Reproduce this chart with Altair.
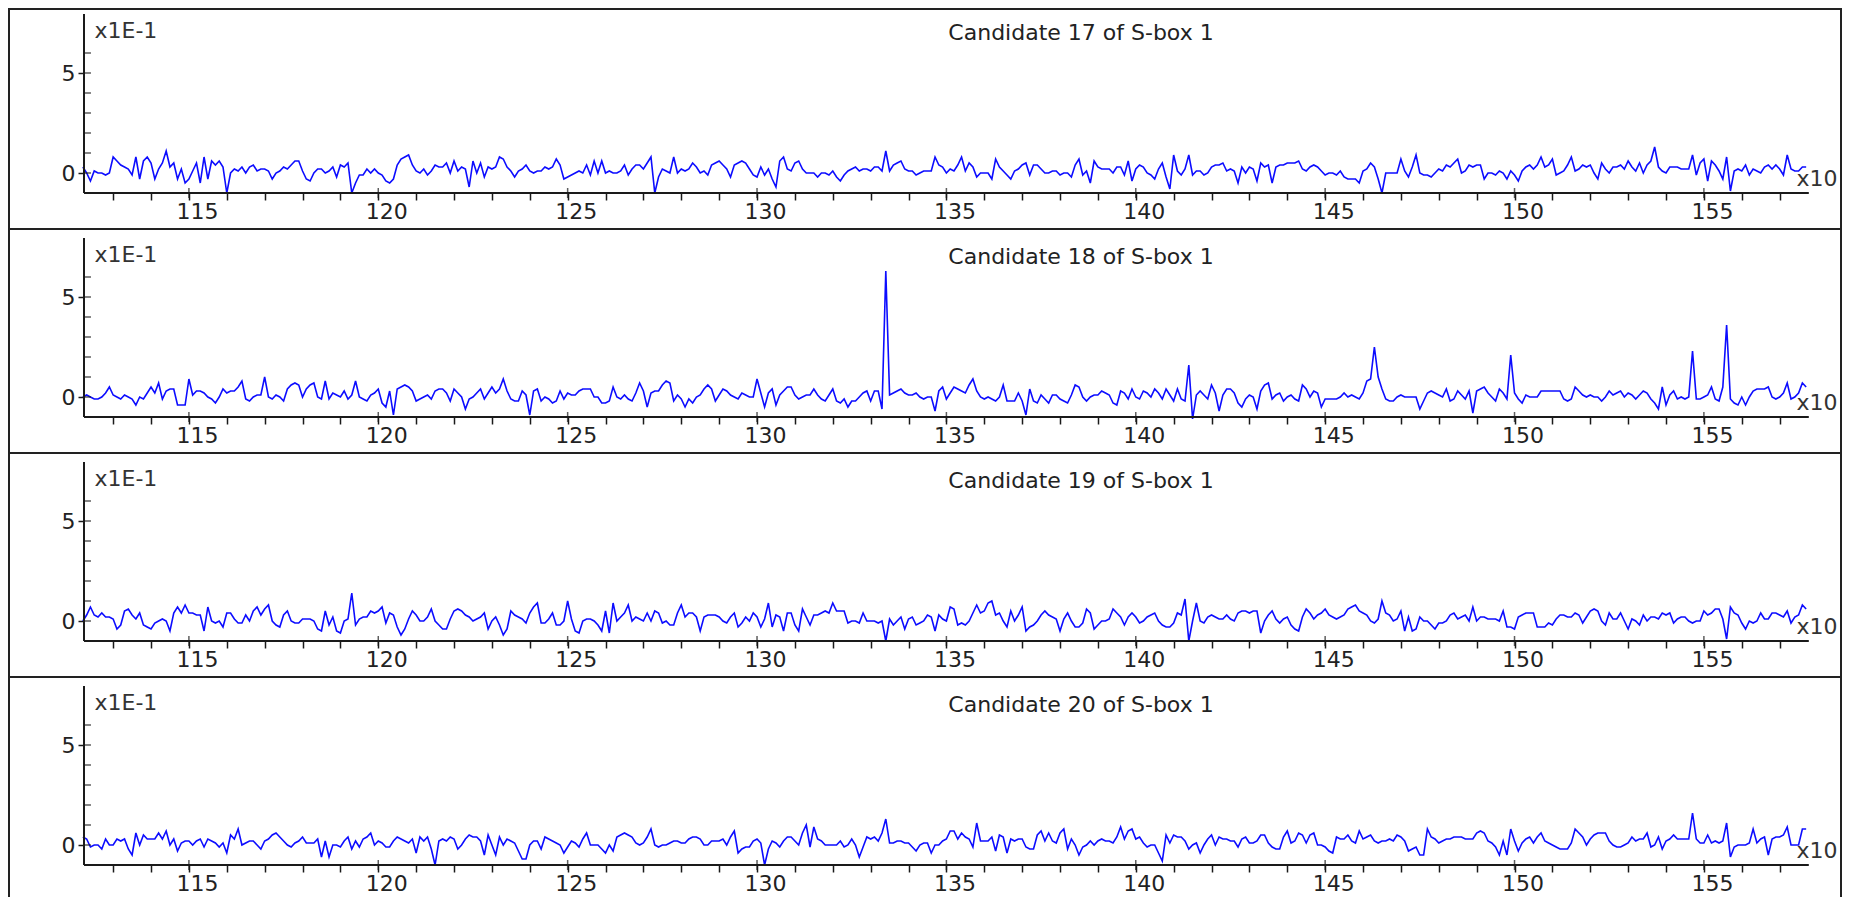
import altair as alt
import pandas as pd

# sample index (axis shows value / 10, hence the "x10" note)
SAMPLES = list(range(1122, 1578))

# values in hundredths (axis shows tenths, hence the "x1E-1" note)
CAND17 = [
    3, 0, -4, 1, 0, 0, -1, 0, 8, 6,
    4, 3, 2, -1, 8, -3, 6, 8, 5, -3,
    2, 5, 11, 3, 5, -3, 2, -5, -3, 1,
    5, -5, 8, -3, 6, 4, 6, 3, -10, 0,
    2, 1, 3, 0, 3, 4, 1, 2, 2, 1,
    -3, 0, 1, 3, 2, 4, 6, 6, 1, -3,
    -4, 0, 2, 2, 0, 1, 3, -2, 4, 3,
    5, -10, -5, -1, -1, 2, 0, 2, 0, -1,
    -4, -5, -3, 4, 7, 8, 9, 4, 1, 0,
    2, -1, 1, 4, 3, 3, 5, 0, 6, 1,
    3, 2, -7, 6, 0, 5, -2, 3, 2, 3,
    8, 7, 3, 1, -2, 1, 2, 4, 1, 0,
    1, 1, 3, 2, 3, 7, 4, -3, -2, -1,
    0, 1, 0, 4, -1, 6, 0, 6, 0, 1,
    0, 0, 1, 4, -1, 2, 4, 4, 2, 5,
    8, -10, -2, 2, 1, 0, 8, 0, 2, 1,
    2, 5, 3, 0, 1, -1, 4, 5, 6, 4,
    2, -2, 4, 5, 6, 5, 2, -1, -2, 3,
    -1, 2, -3, -7, 6, 8, 2, 1, 5, 6,
    2, 0, 0, 0, -2, 0, 0, -1, 1, -2,
    -4, -1, 1, 2, 3, 1, 2, 2, 1, 3,
    3, 1, 11, 1, 4, 5, 6, 2, 1, 1,
    -1, 0, 1, 1, 1, 8, 4, 3, 0, 2,
    1, 4, 8, 1, 5, 3, -2, 0, 0, 0,
    -3, 7, 3, 1, -1, -3, 1, 2, 4, 5,
    -1, 4, 4, 2, 0, 0, 1, 1, -1, 0,
    0, -2, 4, 7, -1, 1, -5, 6, 3, 2,
    2, 2, 0, 3, 3, -1, 6, -4, 2, 4,
    3, 0, -1, -3, 2, 5, -2, -8, 9, 1,
    -1, 2, 9, -1, 1, 1, -1, 0, 3, 4,
    4, 5, 1, 2, 1, -5, 3, 0, 3, 2,
    -4, 5, 3, 4, -5, 3, 4, 4, 5, 5,
    5, 6, 2, 1, 3, 4, 3, 1, -1, 0,
    0, -1, 1, -2, -3, -3, -3, -5, 1, 2,
    5, 3, -3, -10, 0, 0, 0, 0, 7, 1,
    -2, 3, 9, 0, -1, -1, -2, 0, 2, 1,
    4, 3, 5, 7, 0, 1, 4, 3, 4, 4,
    -3, 0, 0, -1, 1, 0, -3, 1, -1, -4,
    1, 3, 4, 2, 4, 8, 3, 4, 7, -1,
    0, 1, 4, 8, 1, 2, 4, 3, 4, 0,
    -3, 5, 2, 0, 3, 3, 4, 2, 6, 3,
    1, 5, 0, 4, 6, 13, 3, 1, 0, 3,
    3, 3, 2, 2, 2, 9, -1, 5, 7, -4,
    6, 4, 1, -3, 8, -9, 1, 2, 1, 4,
    -1, 2, 1, 0, 3, 4, 2, 4, 2, -1,
    9, 2, 1, 1, 3, 3,
]

CAND18 = [
    0, 1, 0, -1, -1, 0, 2, 5, 1, 0,
    -1, 1, 0, -1, -4, 0, -1, 2, 5, 2,
    7, -1, 3, 4, 4, -4, -4, -4, 9, 1,
    3, 3, 2, 0, -1, -3, 0, 4, 2, 3,
    3, 5, 8, -1, -2, 0, 1, 1, 10, 0,
    -1, 1, 0, -2, 4, 6, 7, 6, 0, 4,
    6, 7, 0, -1, 8, -1, 2, 1, 0, 3,
    -1, 1, 8, 0, -1, -2, 1, 2, 4, -3,
    -5, 3, -9, 4, 5, 6, 5, 3, -2, -1,
    0, 1, -1, 3, 4, 4, 2, -2, 4, 2,
    0, -6, -1, 0, 2, 4, -1, 2, 5, 2,
    4, 9, 3, -1, -2, -2, 3, 1, -9, 3,
    4, -2, 0, -1, -3, -2, 3, -1, 2, 1,
    1, 3, 4, 4, 4, 0, 0, -3, -3, -2,
    5, 0, -1, 1, -1, -2, 2, 7, 3, -5,
    2, 3, 3, 6, 8, 7, -2, 1, -1, -5,
    -1, -3, 0, 1, 4, 6, 4, -2, 1, 4,
    3, 1, 0, -1, 2, 1, 0, 0, 9, 2,
    -5, 2, 4, -4, 1, 3, 5, 5, 1, -1,
    0, 1, 1, 4, 1, -1, -2, 1, 4, -2,
    -3, -1, -5, -2, -2, 0, 2, 3, -2, 3,
    3, -6, 63, 1, 2, 3, 4, 2, 1, 1,
    2, 0, -1, 0, 0, -7, 3, 5, -1, 2,
    5, 4, 3, 2, 6, 9, 3, 0, -1, 0,
    -1, -2, 0, 6, -2, -2, -2, 2, -2, -9,
    4, -2, -3, 1, -1, -3, 1, 1, -1, -2,
    -3, 1, 6, 5, 0, -2, 0, 1, 1, 3,
    2, 1, -3, -4, 3, 2, -1, 4, 0, -1,
    3, 2, 0, 4, 2, -1, 4, 1, -2, 4,
    -1, -2, 16, -11, 1, 3, 1, -1, 6, 2,
    -7, 1, 4, 4, 2, -3, -5, -1, 1, 0,
    -6, 3, 6, 7, -1, 1, 2, -2, 0, 1,
    -1, -2, 6, 4, 0, 3, 2, -5, -1, -1,
    -1, -1, 0, 2, 0, 1, 0, -1, 2, 8,
    9, 25, 10, 4, -1, -2, -2, 0, 1, 0,
    0, 0, 0, -6, -2, 2, 3, 2, 1, 0,
    4, -2, -1, 3, 1, -1, 3, -8, 3, 4,
    5, 2, 0, -2, 4, 2, -1, 21, 2, -1,
    -3, 1, 0, 0, 0, 3, 3, 3, 3, 3,
    3, -1, -2, -1, 5, 3, 1, 0, 1, 0,
    0, -2, 0, 3, 1, 2, 3, 0, 2, 1,
    -1, 1, 3, 2, -1, -3, -6, 5, -4, 1,
    3, -1, 0, -1, 0, 23, -1, -1, 0, 1,
    5, -1, -2, 5, 36, -1, -3, -4, 0, -4,
    0, 3, 4, 4, 4, 5, 0, -1, 0, 2,
    7, -1, 0, 2, 7, 5,
]

CAND19 = [
    0, 3, 7, 3, 2, 4, 2, 2, 1, -4,
    -2, 5, 6, 3, 1, 4, -2, -3, -4, -1,
    0, 1, 0, -5, 4, 7, 4, 8, 4, 4,
    3, 3, -5, 7, 0, -1, 0, -3, 4, 4,
    1, -1, -1, 3, 0, 5, 7, 3, 6, 8,
    0, -2, -3, 3, 5, 0, -1, -1, 1, 1,
    1, 0, -4, -5, 5, -2, 2, -5, -6, 0,
    1, 14, -2, 1, 2, 2, 5, 4, 5, 7,
    -1, 4, 3, -3, -7, -4, 1, 5, 3, 0,
    0, 2, 6, 0, -2, -4, -4, 1, 5, 6,
    5, 3, 2, 0, 1, 2, 4, -4, 0, 2,
    -2, -7, -4, 5, 3, 2, 1, -1, 4, 7,
    9, -1, -1, 1, 4, -2, -2, 0, 10, 1,
    -5, -6, 0, 1, 1, 0, -2, -5, 5, -6,
    9, 0, 2, 4, 8, 0, 2, 1, 0, 4,
    0, 5, 4, -1, 0, -2, -2, 4, 8, 2,
    4, 4, 2, -5, 2, 3, 3, 3, 2, 0,
    -1, 2, 4, -3, -1, 2, 0, 4, 2, -3,
    1, 9, -3, 3, 2, -5, 4, 4, -2, -5,
    6, 2, -2, 3, 3, 4, 5, 4, 9, 5,
    5, 5, -1, 0, 0, -1, 4, 0, 0, 0,
    -1, 0, -10, 1, -2, 0, 2, -4, 1, 2,
    -2, -1, 0, 3, 2, -5, 3, 1, 0, 7,
    6, -2, -1, -2, 0, 4, 8, 4, 5, 9,
    10, 3, 4, 0, -3, 5, 0, 3, 7, -5,
    -3, -2, 0, 3, 5, 3, 2, 1, -5, 1,
    4, 0, -3, -3, -1, 6, 4, -4, -2, 0,
    0, 1, 6, 4, 2, -2, 2, 4, 2, -1,
    0, 2, 3, 4, 0, -2, -3, -3, -1, 4,
    3, 11, -10, 0, 9, 0, -1, 2, 3, 2,
    1, 1, 3, 1, 0, 4, 5, 5, 4, 5,
    5, -6, 0, 3, 5, 1, -1, 1, 2, -2,
    -4, -5, 2, 6, 4, 1, 3, 4, 6, 3,
    2, 1, 2, 3, 6, 7, 8, 5, 4, 3,
    0, -1, 1, 10, 4, 3, 0, 1, 5, -5,
    2, -5, -4, 2, 0, 0, -2, -4, -1, -1,
    0, 3, 4, 1, 2, 3, 0, 7, 0, 2,
    2, 1, 1, 1, 0, 5, -3, -3, -4, 2,
    3, 4, 4, 4, -3, -3, -3, -1, -2, 1,
    3, 3, 2, 2, 4, 3, -1, 2, 5, 6,
    5, 0, -2, 4, 1, 1, 4, 0, -4, 1,
    0, -2, 3, 0, 2, 2, 1, 4, 3, 4,
    -1, 1, 2, 2, 0, -1, 0, 0, 5, 3,
    4, 6, 6, 1, -9, 7, 4, 3, -1, -4,
    0, -1, 0, 4, 1, 1, 4, 4, 3, 2,
    5, -1, 2, 3, 8, 6,
]

CAND20 = [
    4, 3, -1, 0, 0, -2, 3, 0, 0, 3,
    2, 3, -2, -5, 6, 0, 5, 3, 3, 3,
    6, 3, 7, 0, 3, -3, 1, 2, 2, 0,
    2, 3, -1, 3, 2, 1, -1, 1, -4, 5,
    3, 8, 0, 1, 2, 2, 0, -2, 2, 3,
    5, 6, 4, 2, 0, -1, 1, 2, 4, 1,
    1, 1, 3, -6, 2, -6, 0, 0, -1, 2,
    4, -2, 2, -1, 3, 4, 6, 0, 2, 1,
    -1, -1, 2, 4, 3, 2, 1, 3, -4, 4,
    2, 4, -2, -10, 2, 3, 2, 4, 3, -2,
    0, 3, 5, 4, 4, 2, -5, 5, 0, -5,
    4, 0, 3, 2, 1, -3, -7, -7, 0, 2,
    2, -2, 4, 3, 2, 1, 0, -4, -1, 2,
    1, -1, 3, 6, 0, 0, 0, -2, -4, 0,
    -3, 4, 5, 6, 5, 4, 1, 0, 1, 4,
    8, 0, -1, 0, 0, 1, 2, 2, 1, 1,
    3, 4, 4, 3, 0, 0, 2, 2, 2, 3,
    0, 4, 7, -4, -2, -1, -1, 2, 3, 1,
    -10, -2, 2, 1, -1, 2, 4, 4, 2, 0,
    6, 10, -1, 9, 3, 2, 0, 0, 0, 0,
    2, -1, 0, 3, 0, -6, -1, 4, 3, 4,
    2, 6, 13, 1, 1, 2, 2, 1, 1, -1,
    -3, 0, 1, 1, -4, 0, 0, 2, 3, 7,
    7, 3, 6, 4, 3, -1, 11, 2, 2, 2,
    4, -3, 5, 4, -4, 3, 2, 3, 3, -1,
    -2, -2, 5, 7, 2, 6, 2, 1, 6, 8,
    -2, 3, 0, -5, -1, 0, 2, 0, 2, 3,
    2, 2, 1, 4, 9, 3, 7, 8, 3, 4,
    1, -1, 0, 0, -4, -8, 5, 1, 5, 4,
    4, 2, -2, 0, 1, -4, 0, 3, 5, 0,
    4, 3, 3, 2, 2, -1, 3, 4, 1, 1,
    2, 5, 5, 1, -1, -2, -2, 4, 7, 1,
    2, 6, 5, 1, 5, 6, 0, 0, -1, -3,
    -4, 4, 3, 3, 5, 2, 1, 7, 3, 4,
    5, 2, 1, 2, 2, 3, 2, 5, 4, 2,
    -3, -2, -1, -5, -5, 8, 4, 3, 1, 2,
    3, 3, 4, 4, 4, 3, 3, 3, 6, 7,
    6, 2, 1, -1, -5, 2, -5, 8, 2, -3,
    1, 3, 4, 1, 4, 6, 2, 1, 0, -1,
    -2, -2, -2, 1, 8, 6, 4, 0, 3, 5,
    6, 6, 6, 2, 0, -1, -1, 0, 1, 4,
    2, 3, 3, 6, -1, 0, 4, -2, 2, 3,
    5, 3, 3, 3, 3, 16, 3, 1, 1, 5,
    1, 2, 1, 2, 11, -6, -1, 0, 0, 0,
    1, 8, 1, 3, 4, -5, 3, 4, 4, 5,
    9, 0, 0, 0, 8, 8,
]

SERIES = [CAND17, CAND18, CAND19, CAND20]
TITLES = [
    "Candidate 17 of S-box 1",
    "Candidate 18 of S-box 1",
    "Candidate 19 of S-box 1",
    "Candidate 20 of S-box 1",
]
X_TICKS = list(range(1130, 1580, 10))
X_MAJOR = list(range(1150, 1580, 50))
Y_TICKS = [-0.1, 0.0, 0.1, 0.2, 0.3, 0.4, 0.5, 0.6]
Y_LABELLED = [0.0, 0.5]
AXIS_X = [1122.3, 1577.7]
AXIS_Y = [-0.1, 0.795]
X_DOMAIN = [1102.5, 1586.2]

FONT = "DejaVu Sans"
INK = "#1a1a1a"


def x_axis():
    return alt.Axis(
        orient="bottom", values=X_TICKS, offset=-36,
        labelExpr="datum.value % 50 == 0 ? format(datum.value / 10, 'd') : ''",
        domain=False, grid=False, tickSize=7, tickWidth=1.5, tickColor=INK,
        labelFont=FONT, labelFontSize=22, labelColor="#222222",
        labelPadding=1, labelOffset=8, labelOverlap=False, labelFlush=False,
        titleX=1787, titleY=-15, titleAlign="left", titleBaseline="middle",
        titleFont=FONT, titleFontSize=22, titleFontWeight="normal",
        titleColor="#333333", titleAngle=0,
    )


def y_axis(ytitle_y):
    return alt.Axis(
        orient="left", values=Y_LABELLED, offset=-75,
        labelExpr="abs(datum.value) < 0.001 ? '0' : '5'",
        domain=False, grid=False, tickSize=6, tickWidth=1.5, tickColor=INK,
        labelFont=FONT, labelFontSize=22, labelColor="#222222",
        labelPadding=3, labelBaseline="middle", labelOverlap=False, labelFlush=False,
        titleX=10, titleY=ytitle_y, titleAlign="left", titleBaseline="middle",
        titleFont=FONT, titleFontSize=22, titleFontWeight="normal",
        titleColor="#333333", titleAngle=0,
    )


def panel(values, title, height, ytop, title_dy, ytitle_y):
    df = pd.DataFrame({"x": SAMPLES, "y": [v / 100 for v in values]})
    xs = alt.Scale(domain=X_DOMAIN, nice=False, zero=False)
    ys = alt.Scale(domain=[-0.28, ytop], nice=False, zero=False)

    def enc_x(field):
        return alt.X(field, scale=xs, title="x10", axis=x_axis())

    def enc_y(field):
        return alt.Y(field, scale=ys, title="x1E-1", axis=y_axis(ytitle_y))

    line = alt.Chart(df).mark_line(color="#0c0cff", strokeWidth=1.6).encode(
        x=enc_x("x:Q"), y=enc_y("y:Q"),
    )
    frame = pd.DataFrame({"x0": [AXIS_X[0]], "x1": [AXIS_X[1]],
                          "y0": [AXIS_Y[0]], "y1": [AXIS_Y[1]]})
    xline = alt.Chart(frame).mark_rule(color=INK, strokeWidth=2).encode(
        x=enc_x("x0:Q"), x2="x1:Q", y=enc_y("y0:Q"),
    )
    yline = alt.Chart(frame).mark_rule(color=INK, strokeWidth=2).encode(
        x=enc_x("x0:Q"), y=enc_y("y0:Q"), y2="y1:Q",
    )
    ytick_df = pd.DataFrame({"x": [AXIS_X[0]] * len(Y_TICKS), "y": Y_TICKS})
    yticks = alt.Chart(ytick_df).mark_tick(
        orient="horizontal", size=7, thickness=1.5, xOffset=3.5, color=INK
    ).encode(x=enc_x("x:Q"), y=enc_y("y:Q"))
    xmaj_df = pd.DataFrame({"x": X_MAJOR, "y": [AXIS_Y[0]] * len(X_MAJOR)})
    xmajor = alt.Chart(xmaj_df).mark_tick(
        orient="vertical", size=10, thickness=1.5, color=INK
    ).encode(x=enc_x("x:Q"), y=enc_y("y:Q"))

    return alt.layer(line, xline, yline, yticks, xmajor).properties(
        width=1832,
        height=height,
        title=alt.TitleParams(
            text=title, orient="top", anchor="start", align="center",
            baseline="middle", frame="group", offset=0, dx=1072, dy=title_dy,
            font=FONT, fontSize=22, fontWeight="normal", color="#222222",
        ),
    )


panels = [
    panel(SERIES[0], TITLES[0], 220, 0.82, 46, 21),
    panel(SERIES[1], TITLES[1], 224, 0.84, 50, 25),
    panel(SERIES[2], TITLES[2], 224, 0.84, 50, 25),
    panel(SERIES[3], TITLES[3], 224, 0.84, 50, 25),
]

chart = alt.vconcat(*panels, spacing=0, bounds="flush").properties(
    padding=0
).configure_view(stroke="#222222", strokeWidth=2)

chart.save("out.html", embed_options={"renderer": "svg", "actions": False})
